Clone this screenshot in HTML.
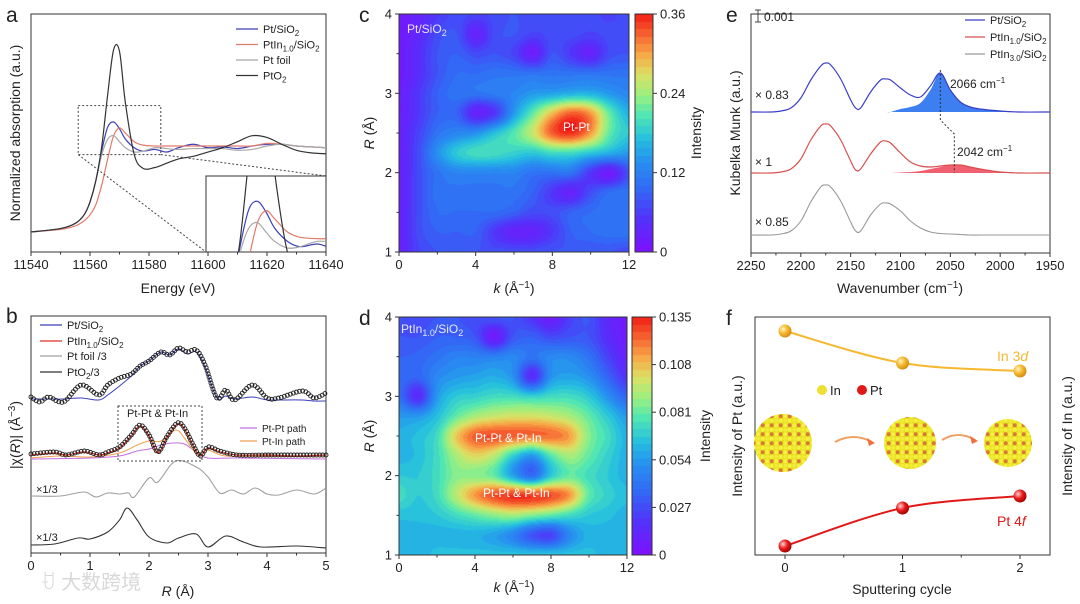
<!DOCTYPE html>
<html><head><meta charset="utf-8">
<style>
html,body{margin:0;padding:0;background:#fff;}
#wrap{position:relative;width:1080px;height:604px;overflow:hidden;font-family:"Liberation Sans","Noto Sans CJK SC",sans-serif;}
canvas{position:absolute;}
svg{position:absolute;left:0;top:0;}
text{font-family:"Liberation Sans","Noto Sans CJK SC",sans-serif;fill:#222;}
</style></head>
<body>
<div id="wrap">
<canvas id="hmc" width="230" height="238" style="left:399px;top:14px"></canvas>
<canvas id="hmd" width="228" height="238" style="left:399px;top:317px"></canvas>
<canvas id="cbc" width="18" height="238" style="left:635px;top:14px"></canvas>
<canvas id="cbd" width="20" height="238" style="left:632px;top:317px"></canvas>
<svg id="s" width="1080" height="604" viewBox="0 0 1080 604">
<defs>
<radialGradient id="gy" cx="35%" cy="35%" r="70%"><stop offset="0" stop-color="#fff6c0"/><stop offset="0.5" stop-color="#f5b82e"/><stop offset="1" stop-color="#d08a10"/></radialGradient>
<radialGradient id="gr" cx="35%" cy="35%" r="70%"><stop offset="0" stop-color="#ffd0d0"/><stop offset="0.5" stop-color="#e81c1c"/><stop offset="1" stop-color="#a00000"/></radialGradient>
<pattern id="np" width="9" height="9" patternUnits="userSpaceOnUse"><rect width="9" height="9" fill="#e6df1e"/><circle cx="2.2" cy="2.2" r="2" fill="#f6f040"/><circle cx="6.7" cy="6.7" r="2" fill="#f6f040"/><circle cx="6.7" cy="2.2" r="2" fill="#d8793a"/><circle cx="2.2" cy="6.7" r="2" fill="#f2ea38"/></pattern>
<clipPath id="insetclip"><rect x="206" y="176" width="120" height="76"/></clipPath>
</defs>
<text x="6" y="22" font-size="21">a</text>
<text x="6" y="323" font-size="21">b</text>
<text x="359" y="22" font-size="21">c</text>
<text x="359" y="325" font-size="21">d</text>
<text x="726" y="22" font-size="21">e</text>
<text x="726" y="325" font-size="21">f</text>
<text x="178" y="293" font-size="14" text-anchor="middle">Energy (eV)</text>
<text transform="translate(20,133) rotate(-90)" font-size="14" text-anchor="middle">Normalized absorption (a.u.)</text>
<text x="178" y="596" font-size="14" text-anchor="middle"><tspan font-style="italic">R</tspan> (Å)</text>
<text transform="translate(20,435) rotate(-90)" font-size="14" text-anchor="middle">|χ(<tspan font-style="italic">R</tspan>)| (Å<tspan font-size="10" dy="-5">−3</tspan><tspan dy="5">)</tspan></text>
<text x="514" y="293" font-size="14" text-anchor="middle"><tspan font-style="italic">k</tspan> (Å<tspan font-size="10" dy="-5">−1</tspan><tspan dy="5">)</tspan></text>
<text transform="translate(374,133) rotate(-90)" font-size="14" text-anchor="middle"><tspan font-style="italic">R</tspan> (Å)</text>
<text transform="translate(701,133) rotate(-90)" font-size="14" text-anchor="middle">Intensity</text>
<text x="514" y="592" font-size="14" text-anchor="middle"><tspan font-style="italic">k</tspan> (Å<tspan font-size="10" dy="-5">−1</tspan><tspan dy="5">)</tspan></text>
<text transform="translate(374,436) rotate(-90)" font-size="14" text-anchor="middle"><tspan font-style="italic">R</tspan> (Å)</text>
<text transform="translate(710,436) rotate(-90)" font-size="14" text-anchor="middle">Intensity</text>
<text x="900" y="293" font-size="14" text-anchor="middle">Wavenumber (cm<tspan font-size="10" dy="-5">−1</tspan><tspan dy="5">)</tspan></text>
<text transform="translate(740,133) rotate(-90)" font-size="14" text-anchor="middle">Kubelka Munk (a.u.)</text>
<text x="902" y="594" font-size="14" text-anchor="middle">Sputtering cycle</text>
<text transform="translate(742,436) rotate(-90)" font-size="14" text-anchor="middle">Intensity of Pt (a.u.)</text>
<text transform="translate(1072,436) rotate(-90)" font-size="14" text-anchor="middle">Intensity of In (a.u.)</text>
<text x="407" y="33" font-size="12" style="fill:#e8e0ff">Pt/SiO<tspan font-size="9" dy="3">2</tspan></text>
<text x="563" y="131" font-size="12" style="fill:#fff">Pt-Pt</text>
<text x="401" y="333" font-size="12" style="fill:#e8e8ff">PtIn<tspan font-size="9" dy="3">1.0</tspan><tspan dy="-3">/SiO</tspan><tspan font-size="9" dy="3">2</tspan></text>
<text x="475" y="442" font-size="12" style="fill:#fff">Pt-Pt &amp; Pt-In</text>
<text x="483" y="497" font-size="12" style="fill:#fff">Pt-Pt &amp; Pt-In</text>
<text x="40" y="589" font-size="20" style="fill:#d8d8d8">ꀀ 大数跨境</text>
</svg>
</div>
<script>
// ===== DATA =====
const aEnergy=[11540,11550,11555,11558,11560,11562,11564,11566,11568,11570,11572,11575,11578,11582,11586,11590,11595,11600,11605,11610,11615,11620,11625,11630,11635,11640];
const aPtSiO2=[0,0.04,0.1,0.2,0.35,0.6,0.95,1.22,1.28,1.2,1.08,0.98,0.94,0.96,0.93,0.98,1.02,0.98,0.99,0.97,1.0,1.02,1.02,1.0,0.99,0.98];
const aPtIn=[0,0.03,0.07,0.13,0.2,0.32,0.55,0.85,1.12,1.21,1.15,1.05,1.01,1.0,1.0,1.0,1.0,1.0,1.0,1.0,1.0,1.03,1.02,1.0,0.99,0.98];
const aPtFoil=[0,0.04,0.1,0.2,0.35,0.6,0.9,1.08,1.12,1.05,0.98,0.93,0.94,0.98,0.97,0.96,0.97,0.97,0.97,0.95,0.96,1.0,1.02,1.0,0.99,0.98];
const aPtO2=[0,0.04,0.1,0.2,0.35,0.6,1.0,1.6,2.12,2.1,1.5,0.9,0.74,0.75,0.8,0.85,0.88,0.93,0.98,1.05,1.12,1.1,1.02,0.95,0.92,0.91];
const aXTicks=[11540,11560,11580,11600,11620,11640];
const bR1=[0,0.15,0.3,0.55,0.85,1.15,1.3,1.5,1.7,1.85,2.0,2.2,2.35,2.5,2.65,2.8,2.95,3.15,3.3,3.45,3.75,4.0,4.2,4.6,4.8,5.0];
const bPtSiO2Fit=[156,151,156,151,168,158,168,175,179,187,192,201,198,205,201,203,188,155,163,153,168,155,155,162,155,160];
const bPtSiO2=[154,154,154,154,155,153,158,167,177,187,192,201,198,204,199,201,186,155,157,154,156,153,153,153,152,152];
const bR2=[0,0.4,0.6,0.9,1.15,1.3,1.5,1.7,1.85,2.0,2.15,2.3,2.48,2.6,2.75,2.87,3.0,3.2,3.5,4.0,4.5,5.0];
const bPtInFit=[99,101,98,102,98,101,106,118,128,118,101,116,130,125,108,97,106,102,98,98,98,98];
const bPtIn=[98,100,98,101,98,100,105,117,127,117,100,115,129,124,107,97,105,101,98,98,97,98];
const bRpp=[0,1,1.5,1.8,2.0,2.2,2.4,2.6,2.8,3.0,3.5,5];
const bPtPtPath=[94,95,97,102,104,108,110,109,101,95,95,94];
const bRpi=[0,0.5,1,1.5,1.8,2.0,2.2,2.45,2.6,2.8,3.0,3.3,4,5];
const bPtInPath=[95,97,96,100,108,112,112,123,115,100,103,97,97,96];
const bRfoil=[0,0.5,0.9,1.1,1.3,1.5,1.65,1.75,2.0,2.15,2.45,2.8,3.0,3.2,3.4,3.6,3.8,4.0,4.2,4.5,4.8,5.0];
const bPtFoil=[57,57,61,56,60,59,60,56,75,71,92,86,76,60,63,59,65,59,58,63,59,65];
const bRo=[0,0.4,0.8,1.0,1.3,1.5,1.63,1.8,2.0,2.3,2.5,2.8,3.0,3.3,3.6,3.9,4.5,5.0];
const bPtO2=[8,9,15,14,21,33,45,33,16,10,15,19,6,17,11,6,7,5];
const bXTicks=[0,1,2,3,4,5];
const cGrid=[
[.05,.08,.15,.2,.18,.2,.22,.2,.2,.2,.2,.18,.2],
[.05,.1,.2,.22,.08,.2,.22,.18,.2,.2,.18,.2,.2],
[.05,.12,.22,.25,.2,.22,.18,.06,.22,.15,.08,.2,.22],
[.05,.12,.22,.28,.28,.3,.3,.3,.3,.3,.3,.3,.3],
[.06,.15,.25,.3,.3,.32,.35,.4,.42,.45,.45,.4,.35],
[.06,.15,.25,.25,.08,.15,.4,.6,.8,.92,.85,.6,.45],
[.07,.18,.3,.35,.38,.48,.58,.72,.92,.98,.85,.6,.5],
[.07,.2,.38,.5,.55,.55,.52,.5,.55,.55,.5,.45,.4],
[.07,.2,.3,.35,.35,.35,.35,.3,.3,.3,.15,.05,.2],
[.07,.2,.3,.3,.3,.3,.3,.25,.15,.08,.2,.28,.3],
[.07,.2,.28,.28,.28,.28,.25,.2,.2,.25,.28,.3,.3],
[.07,.2,.25,.25,.25,.15,.08,.08,.15,.25,.28,.3,.3],
[.07,.18,.22,.22,.22,.2,.2,.2,.22,.22,.22,.22,.2]];
const dGrid=[
[.22,.2,.22,.22,.2,.22,.22,.14,.05,.17,.22,.1,.05],
[.22,.22,.25,.25,.22,.05,.22,.25,.2,.22,.22,.12,.05],
[.25,.26,.3,.34,.34,.34,.36,.3,.36,.36,.3,.18,.08],
[.28,.26,.36,.4,.42,.44,.38,.12,.38,.42,.38,.26,.14],
[.28,.12,.4,.5,.52,.55,.55,.52,.55,.55,.5,.38,.26],
[.4,.4,.48,.6,.68,.72,.74,.74,.72,.68,.6,.5,.4],
[.45,.48,.55,.78,.92,.94,.92,.9,.9,.84,.64,.55,.45],
[.45,.48,.55,.68,.76,.7,.52,.4,.58,.68,.6,.52,.45],
[.5,.5,.55,.64,.64,.6,.42,.28,.5,.6,.55,.5,.45],
[.55,.5,.55,.7,.85,.94,.97,.96,.94,.85,.6,.52,.48],
[.48,.48,.5,.55,.6,.65,.68,.64,.6,.55,.5,.48,.45],
[.45,.45,.45,.45,.45,.42,.35,.22,.18,.36,.45,.45,.45],
[.45,.45,.48,.48,.48,.48,.48,.48,.48,.48,.48,.45,.45]];
const kTicks=[0,4,8,12];
const rTicks=[1,2,3,4];
const cCbTicks=["0","0.12","0.24","0.36"];
const dCbTicks=["0","0.027","0.054","0.081","0.108","0.135"];
const eWn=[2250,2230,2220,2210,2200,2190,2180,2175,2170,2160,2150,2145,2140,2130,2120,2115,2110,2100,2090,2080,2070,2060,2050,2040,2030,2020,2000,1980,1950];
const ePtSiO2=[0,0,1,4,14,32,46,49,47,33,12,4,4,20,32,33,32,24,17,15,26,39,22,10,5,3,1,0,0];
const ePtSiO2Fill=[0,0,0,0,0,0,0,0,0,0,0,0,0,0,0,0,0,3,5,9,22,39,22,10,5,3,1,0,0];
const ePtIn1=[0,0,1,4,14,33,47,49,47,33,12,3,4,19,31,32,30,20,11,7,6,7,8,8,6,4,1,0,0];
const ePtIn1Fill=[0,0,0,0,0,0,0,0,0,0,0,0,0,0,0,0,0,0.5,1,2,4,6,8,8,6,4,1,0,0];
const ePtIn3=[0,0,1,4,14,33,48,50,48,34,13,4,4,20,31,32,31,24,14,7,3,1.5,1,0.5,0,0,0,0,0];
const eOffsets=[141,80,18];
const eXTicks=[2250,2200,2150,2100,2050,2000,1950];
const fCycles=[0,1,2];
const fIn3d=[224,192,184];
const fPt4f=[9,47,59];

// ===== HELPERS =====
const NS='http://www.w3.org/2000/svg';
const svg=document.getElementById('s');
function mk(tag,attrs,parent){const e=document.createElementNS(NS,tag);for(const k in attrs)e.setAttribute(k,attrs[k]);(parent||svg).appendChild(e);return e;}
function lin(d0,d1,r0,r1){return v=>r0+(v-d0)*(r1-r0)/(d1-d0);}
function smooth(pts){let d='M'+pts[0][0].toFixed(2)+','+pts[0][1].toFixed(2);for(let i=0;i<pts.length-1;i++){const p0=pts[i-1]||pts[i],p1=pts[i],p2=pts[i+1],p3=pts[i+2]||p2;const t=6;const c1=[p1[0]+(p2[0]-p0[0])/t,p1[1]+(p2[1]-p0[1])/t];const c2=[p2[0]-(p3[0]-p1[0])/t,p2[1]-(p3[1]-p1[1])/t];d+=`C${c1[0].toFixed(2)},${c1[1].toFixed(2)} ${c2[0].toFixed(2)},${c2[1].toFixed(2)} ${p2[0].toFixed(2)},${p2[1].toFixed(2)}`;}return d;}
function pts(xs,ys,sx,sy,off){return xs.map((x,i)=>[sx(x),sy(ys[i]+(off||0))]);}
function frame(x,y,w,h,name){const r=mk('rect',{x:x,y:y,width:w,height:h,fill:'none',stroke:'#333','stroke-width':1});return r;}
function xticks(vals,sx,y0,name,fmt,minor){
  vals.forEach(v=>{const x=sx(v);
    const t=mk('line',{x1:x,x2:x,y1:y0,y2:y0+4,stroke:'#333'});
    
    
    const l=mk('text',{x:x,y:y0+17,'font-size':13,'text-anchor':'middle'});l.textContent=fmt?fmt(v):v;
    
    
  });
  if(minor){for(let i=0;i<vals.length-1;i++){const x=(sx(vals[i])+sx(vals[i+1]))/2;
    const t=mk('line',{x1:x,x2:x,y1:y0,y2:y0+2.5,stroke:'#333'});
    
    }}
}
function curve(d,color,w,name,extra){const p=mk('path',Object.assign({d:d,fill:'none',stroke:color,'stroke-width':w},extra||{}));return p;}
function txt(x,y,s,size,name,attrs){const t=mk('text',Object.assign({x:x,y:y,'font-size':size},attrs||{}));t.innerHTML=s;return t;}

// ===== PANEL A =====
const ax=lin(11540,11640,31,326), ay=lin(0,1,232,146);
frame(31,14,295,238,'a-plot-frame');
xticks(aXTicks,ax,252,'a-x',null,true);
const aSeries=[[aPtSiO2,'#3b3fb8','a-pt-sio2-curve'],[aPtIn,'#e07a6a','a-ptin-curve'],[aPtFoil,'#a8a8a8','a-pt-foil-curve'],[aPtO2,'#333','a-pto2-curve']];
aSeries.forEach(s=>curve(smooth(pts(aEnergy,s[0],ax,ay)),s[1],1.2,s[2]));
const zb=mk('rect',{x:ax(11556),y:ay(1.47),width:ax(11584)-ax(11556),height:ay(0.9)-ay(1.47),fill:'none',stroke:'#444','stroke-dasharray':'2,2'});


const zl1=mk('line',{x1:ax(11556),y1:ay(0.9),x2:206,y2:252,stroke:'#444','stroke-dasharray':'2,2'});


const zl2=mk('line',{x1:ax(11584),y1:ay(0.9),x2:326,y2:176,stroke:'#444','stroke-dasharray':'2,2'});


const ibg=mk('rect',{x:206,y:176,width:120,height:76,fill:'#fff',stroke:'#333'});


const ix=lin(11556,11584,206,326), iy=lin(0.9,1.47,252,176);
const ig=mk('g',{'clip-path':'url(#insetclip)'});


aSeries.forEach(s=>{const p=mk('path',{d:smooth(pts(aEnergy,s[0],ix,iy)),fill:'none',stroke:s[1],'stroke-width':1.2},ig);
  
  });
const aLeg=[['Pt/SiO<tspan font-size="8" dy="3">2</tspan>','#3b3fb8'],['PtIn<tspan font-size="8" dy="3">1.0</tspan><tspan dy="-3">/SiO</tspan><tspan font-size="8" dy="3">2</tspan>','#e07a6a'],['Pt foil','#a8a8a8'],['PtO<tspan font-size="8" dy="3">2</tspan>','#333']];
aLeg.forEach((l,i)=>{const y=29+i*15.5;
  const ln=mk('line',{x1:236,x2:258,y1:y,y2:y,stroke:l[1],'stroke-width':1.3});
  
  
  txt(263,y+4,l[0],11,'a-legend-entry');});

// ===== PANEL B =====
const bx=lin(0,5,31,326), by=lin(0,237,553,316);
frame(31,316,295,237,'b-plot-frame');
xticks(bXTicks,bx,553,'b-x',null,true);
curve(smooth(pts(bR1,bPtSiO2,bx,by)),'#3b3fb8',1,'b-pt-sio2-curve');
const fitPath1=curve(smooth(pts(bR1,bPtSiO2Fit,bx,by)),'none',0,'b-pt-sio2-fit-path');
curve(smooth(pts(bRpp,bPtPtPath,bx,by)),'#c070e0',1,'b-pt-pt-path-curve');
curve(smooth(pts(bRpi,bPtInPath,bx,by)),'#f0a050',1,'b-pt-in-path-curve');
curve(smooth(pts(bR2,bPtIn,bx,by)),'#e03020',1.2,'b-ptin-curve');
const fitPath2=curve(smooth(pts(bR2,bPtInFit,bx,by)),'none',0,'b-ptin-fit-path');
curve(smooth(pts(bRfoil,bPtFoil,bx,by)),'#a0a0a0',1.1,'b-pt-foil-curve');
curve(smooth(pts(bRo,bPtO2,bx,by)),'#333',1.1,'b-pto2-curve');
[[fitPath1,'b-pt-sio2-fit-marker'],[fitPath2,'b-ptin-fit-marker']].forEach(fp=>{
  const p=fp[0],L=p.getTotalLength();
  for(let s=0;s<=L;s+=3.2){const q=p.getPointAtLength(s);
    const c=mk('circle',{cx:q.x,cy:q.y,r:2,fill:'none',stroke:'#222','stroke-width':0.9});
    
    }
});
const bb=mk('rect',{x:118,y:406,width:84,height:55,fill:'none',stroke:'#444','stroke-dasharray':'2,2'});


txt(127,417,'Pt-Pt &amp; Pt-In',11,'b-highlight-label');
const bLeg=[['Pt/SiO<tspan font-size="8" dy="3">2</tspan>','#3b3fb8',325],['PtIn<tspan font-size="8" dy="3">1.0</tspan><tspan dy="-3">/SiO</tspan><tspan font-size="8" dy="3">2</tspan>','#e03020',341],['Pt foil /3','#a0a0a0',356],['PtO<tspan font-size="8" dy="3">2</tspan><tspan dy="-3">/3</tspan>','#333',372]];
bLeg.forEach(l=>{
  const ln=mk('line',{x1:40,x2:62,y1:l[2],y2:l[2],stroke:l[1],'stroke-width':1.3});
  
  
  txt(67,l[2]+4,l[0],11,'b-legend-entry');});
[['Pt-Pt path','#c070e0',428],['Pt-In path','#f0a050',441]].forEach(l=>{
  const ln=mk('line',{x1:240,x2:257,y1:l[2],y2:l[2],stroke:l[1],'stroke-width':1.3});
  
  
  txt(262,l[2]+4,l[0],10,'b-path-legend-entry');});
txt(36,493,'×1/3',11,'b-foil-scale-label');
txt(36,541,'×1/3',11,'b-pto2-scale-label');

// ===== PANELS C/D =====
const cmapStops=[[0,[122,20,255]],[0.12,[84,48,250]],[0.25,[50,104,245]],[0.36,[40,142,240]],[0.46,[36,190,225]],[0.56,[80,230,180]],[0.64,[150,240,130]],[0.73,[220,225,100]],[0.82,[248,165,70]],[0.91,[245,90,45]],[1,[240,18,18]]];
function cmap(t){t=Math.max(0,Math.min(1,t));for(let i=0;i<cmapStops.length-1;i++){const a=cmapStops[i],b=cmapStops[i+1];if(t<=b[0]){const f=(t-a[0])/(b[0]-a[0]);return a[1].map((v,j)=>Math.round(v+(b[1][j]-v)*f));}}return cmapStops[cmapStops.length-1][1];}
function cubic(p0,p1,p2,p3,t){return p1+0.5*t*(p2-p0+t*(2*p0-5*p1+4*p2-p3+t*(3*(p1-p2)+p3-p0)));}
function sample(g,r,c){const R=g.length,C=g[0].length;const gi=(i,j)=>g[Math.max(0,Math.min(R-1,i))][Math.max(0,Math.min(C-1,j))];
  const i=Math.floor(r),j=Math.floor(c),fr=r-i,fc=c-j;const rows=[];for(let m=-1;m<=2;m++)rows.push(cubic(gi(i+m,j-1),gi(i+m,j),gi(i+m,j+1),gi(i+m,j+2),fc));return cubic(rows[0],rows[1],rows[2],rows[3],fr);}
function drawHeat(id,g){const cv=document.getElementById(id),ctx=cv.getContext('2d'),W=cv.width,H=cv.height,img=ctx.createImageData(W,H);
  for(let y=0;y<H;y++)for(let x=0;x<W;x++){const r=y/(H-1)*(g.length-1),c=x/(W-1)*(g[0].length-1);let v=sample(g,r,c);v=Math.floor(v*32)/32;const col=cmap(v);const o=(y*W+x)*4;img.data[o]=col[0];img.data[o+1]=col[1];img.data[o+2]=col[2];img.data[o+3]=255;}
  ctx.putImageData(img,0,0);}
function drawBar(id){const cv=document.getElementById(id),ctx=cv.getContext('2d'),H=cv.height;for(let y=0;y<H;y++){const t=Math.floor((1-y/H)*32)/32;const c=cmap(t);ctx.fillStyle=`rgb(${c[0]},${c[1]},${c[2]})`;ctx.fillRect(0,y,cv.width,1);}}
drawHeat('hmc',cGrid);drawHeat('hmd',dGrid);drawBar('cbc');drawBar('cbd');
function heatAxes(x0,y0,w,h,cbx,cbw,cbLabels,pre){
  frame(x0,y0,w,h,pre+'-plot-frame');
  frame(cbx,y0,cbw,h,pre+'-colorbar-frame');
  const sx=lin(0,12,x0,x0+w), sy=lin(1,4,y0+h,y0);
  xticks(kTicks,sx,y0+h,pre+'-x',null,true);
  rTicks.forEach(v=>{const y=sy(v);
    const t=mk('line',{x1:x0-4,x2:x0,y1:y,y2:y,stroke:'#333'});
    
    
    txt(x0-7,y+4.5,String(v),13,pre+'-y-tick-label',{'text-anchor':'end'});});
  for(let v=1.5;v<4;v+=1){const y=sy(v);
    const t=mk('line',{x1:x0-2.5,x2:x0,y1:y,y2:y,stroke:'#333'});
    
    }
  cbLabels.forEach((s,i)=>{const y=y0+h-i*h/(cbLabels.length-1);
    const t=mk('line',{x1:cbx+cbw,x2:cbx+cbw+4,y1:y,y2:y,stroke:'#333'});
    
    
    txt(cbx+cbw+7,y+4.5,s,13,pre+'-colorbar-tick-label');});
}
heatAxes(399,14,230,238,635,18,cCbTicks,'c');
heatAxes(399,317,228,238,632,20,dCbTicks,'d');

// ===== PANEL E =====
const ex=lin(2250,1950,751,1050), ey=lin(0,239,253,14);
frame(751,14,299,239,'e-plot-frame');
xticks(eXTicks,ex,253,'e-x',null,true);
function fillArea(ys,off,color,name){const top=pts(eWn,ys,ex,ey,off);const d=smooth(top)+`L${ex(1950)},${ey(off)}L${ex(2250)},${ey(off)}Z`;const p=mk('path',{d:d,fill:color,stroke:'none'});}
fillArea(ePtSiO2Fill,eOffsets[0],'#3d7ef0','e-pt-sio2-2066-peak-fill');
fillArea(ePtIn1Fill,eOffsets[1],'#f06070','e-ptin1-2042-peak-fill');
curve(smooth(pts(eWn,ePtSiO2,ex,ey,eOffsets[0])),'#3b3fc8',1.2,'e-pt-sio2-curve');
curve(smooth(pts(eWn,ePtIn1,ex,ey,eOffsets[1])),'#d85050',1.2,'e-ptin1-curve');
curve(smooth(pts(eWn,ePtIn3,ex,ey,eOffsets[2])),'#999',1.1,'e-ptin3-curve');
curve(`M${ex(2060)},${ey(eOffsets[0]+42)}L${ex(2060)},${ey(eOffsets[0]-8)}L${ex(2046)},${ey(eOffsets[0]-22)}L${ex(2046)},${ey(eOffsets[1])}`,'#333',1,'e-peak-shift-connector',{'stroke-dasharray':'2,2'});
txt(950,88,'2066 cm<tspan font-size="8" dy="-5">−1</tspan>',12,'e-2066-label');
txt(957,156,'2042 cm<tspan font-size="8" dy="-5">−1</tspan>',12,'e-2042-label');
txt(755,99,'× 0.83',12,'e-scale-083');
txt(755,166,'× 1',12,'e-scale-1');
txt(755,226,'× 0.85',12,'e-scale-085');
curve('M755,10L761,10M758,10L758,22M755,22L761,22','#444',1,'e-scale-bar');
txt(764,21,'0.001',12,'e-scale-bar-label');
[['Pt/SiO<tspan font-size="8" dy="3">2</tspan>','#3b3fc8',20],['PtIn<tspan font-size="8" dy="3">1.0</tspan><tspan dy="-3">/SiO</tspan><tspan font-size="8" dy="3">2</tspan>','#d85050',37],['PtIn<tspan font-size="8" dy="3">3.0</tspan><tspan dy="-3">/SiO</tspan><tspan font-size="8" dy="3">2</tspan>','#999',54]].forEach(l=>{
  const ln=mk('line',{x1:965,x2:985,y1:l[2],y2:l[2],stroke:l[1],'stroke-width':1.3});
  
  
  txt(990,l[2]+4,l[0],11,'e-legend-entry');});

// ===== PANEL F =====
const fx=lin(0,2,785,1020), fy=lin(0,238,555,317);
frame(755,317,295,238,'f-plot-frame');
xticks(fCycles,fx,555,'f-x',null,true);
curve(smooth(pts(fCycles,fIn3d,fx,fy)),'#f5b82e',2,'f-in3d-line');
curve(smooth(pts(fCycles,fPt4f,fx,fy)),'#e01818',2,'f-pt4f-line');
fCycles.forEach((c,i)=>{
  const a=mk('circle',{cx:fx(c),cy:fy(fIn3d[i]),r:6.5,fill:'url(#gy)'});
  
  
  const b=mk('circle',{cx:fx(c),cy:fy(fPt4f[i]),r:6.5,fill:'url(#gr)'});
  
  });
txt(997,361,'In 3<tspan font-style="italic">d</tspan>',14,'f-in3d-label',{style:'fill:#f5b82e'});
txt(997,526,'Pt 4<tspan font-style="italic">f</tspan>',14,'f-pt4f-label',{style:'fill:#e01818'});
const lg1=mk('circle',{cx:822,cy:390,r:5,fill:'#eee030'});


txt(830,395,'In',13,'f-legend-in');
const lg2=mk('circle',{cx:862,cy:390,r:5,fill:'#e01818'});


txt(870,395,'Pt',13,'f-legend-pt');
[[783,443,29],[910,443,26],[1008,443,24]].forEach(s=>{
  const c=mk('circle',{cx:s[0],cy:s[1],r:s[2],fill:'url(#np)'});
  
  });
[[835,442,872],[942,440,975]].forEach(a=>{
  curve(`M${a[0]},${a[1]}Q${(a[0]+a[2])/2},${a[1]-10} ${a[2]},${a[1]}`,'#f0a060',2,'f-arrow');
  const h=mk('path',{d:`M${a[2]+3},${a[1]+1}L${a[2]-5},${a[1]-4}L${a[2]-3},${a[1]+4}Z`,fill:'#f07040'});
  
  });
</script>
</body></html>
